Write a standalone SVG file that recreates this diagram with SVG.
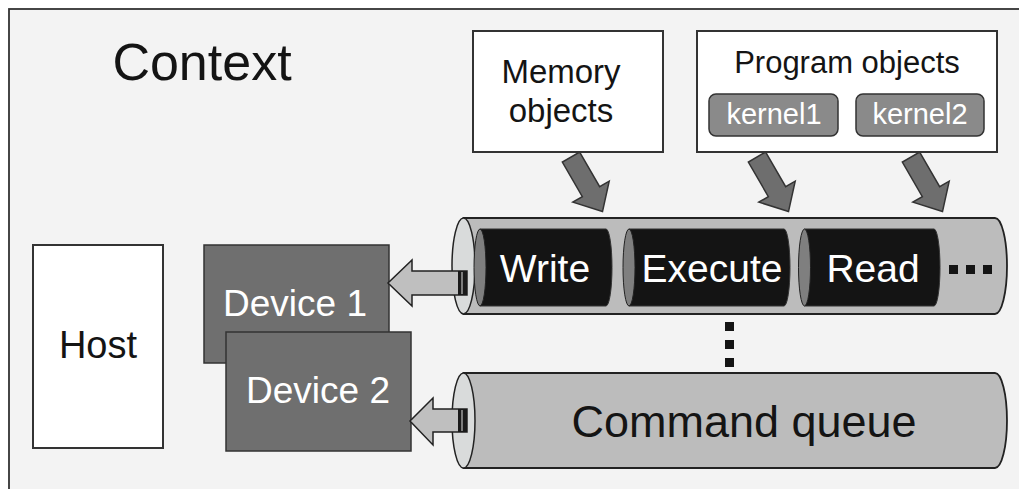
<svg xmlns="http://www.w3.org/2000/svg" width="1019" height="489" viewBox="0 0 1019 489">
<style>
text{font-family:"Liberation Sans",Arial,sans-serif;text-anchor:middle}
.dark{fill:#141414}
.wt{fill:#ffffff}
.box{fill:#ffffff;stroke:#333;stroke-width:2}
.dev{fill:#6f6f6f;stroke:#333;stroke-width:1.5}
.kern{fill:#8a8a8a;stroke:#333;stroke-width:1.5}
.cyl{fill:#bcbcbc;stroke:#222;stroke-width:1.8}
.cap{fill:#d9dbdb;stroke:#222;stroke-width:1.5}
.blk{fill:#141414;stroke:#333;stroke-width:1}
.blkcap{fill:#7f7f7f;stroke:#222;stroke-width:1}
.darr{fill:#6e6e6e;stroke:#333;stroke-width:1.5}
.larr{fill:#bfbfbf;stroke:#222;stroke-width:1.5}
</style>
<defs>
<path id="downArrow" d="M0,-10 L40,-10 L40,-21 L63,0 L40,21 L40,10 L0,10 Z"/>
</defs>
<rect width="1019" height="489" fill="#ffffff"/>
<rect x="9" y="9" width="1030" height="500" fill="#f3f3f3" stroke="#333" stroke-width="1.8"/>
<g id="context-label"><text x="202" y="80" font-size="52" fill="#141414">Context</text></g>

<g id="host">
<rect x="33" y="245" width="130" height="203" class="box"/>
<text x="98" y="358" font-size="38" fill="#141414">Host</text>
</g>

<g id="device1">
<rect x="204" y="245" width="185" height="118" class="dev"/>
<text x="295" y="316" font-size="37" class="wt">Device 1</text>
</g>
<g id="device2">
<rect x="226" y="332" width="185" height="119" class="dev"/>
<text x="318" y="403" font-size="37" class="wt">Device 2</text>
</g>

<g id="memory-objects">
<rect x="473" y="31" width="190" height="121" class="box"/>
<text x="561" y="83" font-size="33" fill="#141414">Memory</text>
<text x="561" y="122" font-size="33" fill="#141414">objects</text>
</g>

<g id="program-objects">
<rect x="697" y="31" width="300" height="121" class="box"/>
<text x="847" y="73" font-size="31" fill="#141414">Program objects</text>
<g id="kernel1">
<rect x="709" y="94" width="129" height="42" rx="7" class="kern"/>
<text x="774" y="124" font-size="29" class="wt">kernel1</text>
</g>
<g id="kernel2">
<rect x="856" y="94" width="128" height="42" rx="7" class="kern"/>
<text x="920" y="124" font-size="29" class="wt">kernel2</text>
</g>
</g>

<g id="queue1">
<path d="M463.5,218 L995,218 A12,48 0 0 1 995,314 L463.5,314 Z" class="cyl"/>
<ellipse cx="463.5" cy="266" rx="11.5" ry="48" class="cap"/>
<g id="cmd-write">
<path d="M480,229 L606,229 A6,38.5 0 0 1 606,306 L480,306 Z" class="blk"/>
<ellipse cx="480" cy="267.5" rx="6" ry="38.5" class="blkcap"/>
<text x="545" y="282" font-size="39" class="wt">Write</text>
</g>
<g id="cmd-execute">
<path d="M629,229 L784,229 A6,38.5 0 0 1 784,306 L629,306 Z" class="blk"/>
<ellipse cx="629" cy="267.5" rx="6" ry="38.5" class="blkcap"/>
<text x="712" y="282" font-size="39" class="wt">Execute</text>
</g>
<g id="cmd-read">
<path d="M804.5,229 L934,229 A6,38.5 0 0 1 934,306 L804.5,306 Z" class="blk"/>
<ellipse cx="804.5" cy="267.5" rx="6" ry="38.5" class="blkcap"/>
<text x="873" y="282" font-size="39" class="wt">Read</text>
</g>
<rect x="949" y="265" width="9" height="9" class="dark"/>
<rect x="966" y="265" width="9" height="9" class="dark"/>
<rect x="983" y="265" width="9" height="9" class="dark"/>
</g>

<g id="vdots">
<rect x="725" y="322" width="9" height="9" class="dark"/>
<rect x="725" y="340" width="9" height="9" class="dark"/>
<rect x="725" y="358" width="9" height="9" class="dark"/>
</g>

<g id="queue2">
<path d="M463.5,373 L995,373 A12,47.5 0 0 1 995,468 L463.5,468 Z" class="cyl"/>
<ellipse cx="463.5" cy="420.5" rx="11.5" ry="47.5" class="cap"/>
<text x="744" y="437" font-size="45" fill="#141414">Command queue</text>
</g>

<g id="connectors">
<use href="#downArrow" class="darr" transform="translate(571,157) rotate(60)"/>
<use href="#downArrow" class="darr" transform="translate(757,157) rotate(60)"/>
<use href="#downArrow" class="darr" transform="translate(911,157) rotate(60)"/>
<path d="M467,271 L412,271 L412,260 L388,283 L412,306 L412,295 L467,295 Z" class="larr"/>
<rect x="458" y="271" width="9" height="24" fill="#1a1a1a"/>
<line x1="462" y1="272" x2="462" y2="294" stroke="#bfbfbf" stroke-width="1.2"/>
<path d="M467,409 L433,409 L433,398 L410,421 L433,445 L433,432 L467,432 Z" class="larr"/>
<rect x="458" y="409" width="9" height="23" fill="#1a1a1a"/>
<line x1="462" y1="410" x2="462" y2="431" stroke="#bfbfbf" stroke-width="1.2"/>
</g>
</svg>
